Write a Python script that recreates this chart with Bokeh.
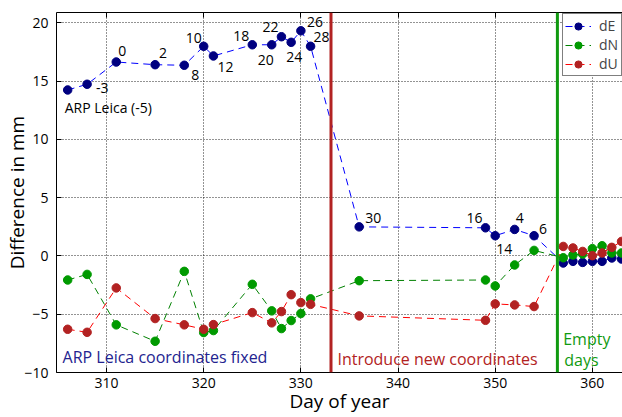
from bokeh.plotting import figure
from bokeh.models import (Range1d, SingleIntervalTicker, Span, Label, Legend,
                          LegendItem, LinearAxis, ColumnDataSource)
from bokeh.core.properties import value
from bokeh.embed import file_html
from bokeh.resources import INLINE

# ---------------- data ----------------
days = [306, 308, 311, 315, 318, 320, 321, 325, 327, 328, 329, 330, 331,
        336, 349, 350, 352, 354, 357, 358, 359, 360, 361, 362, 363]
dE = [14.25, 14.74, 16.65, 16.42, 16.37, 18.0, 17.17, 18.13, 18.13, 18.82,
      18.34, 19.33, 18.0, 2.5, 2.42, 1.74, 2.28, 1.74, -0.6, -0.46, -0.55,
      -0.46, -0.46, -0.17, -0.26]
dN = [-2.06, -1.58, -5.91, -7.32, -1.32, -6.57, -6.4, -2.43, -4.71, -6.23,
      -5.54, -4.94, -3.68, -2.12, -2.06, -2.57, -0.77, 0.48, -0.15, 0.09,
      0.17, 0.63, 0.88, 0.26, 0.26]
dU = [-6.29, -6.55, -2.74, -5.37, -5.91, -6.29, -5.89, -4.86, -5.74, -4.77,
      -3.32, -4.0, -4.15, -5.14, -5.52, -4.11, -4.2, -4.34, 0.82, 0.69, 0.39,
      0.03, 0.26, 0.74, 1.25]

# point labels on the dE series (first 18 points)
label_days = days[:18]
label_dE = dE[:18]
label_text = ["ARP Leica (-5)", "-3", "0", "2", "8", "10", "12", "18", "20",
              "22", "24", "26", "28", "30", "16", "14", "4", "6"]
# pixel offsets of each label (style)
label_dx = [-3, 9, 2, 4, 7, -18, 4, -19, -14, -19, -5, 6, 3, 6, -19, 1, 1, 5]
label_dy = [18, 4, -11, -12, 10, -8, 11, -9, 15, -10, 15, -9, -9, -9, -10, 13, -11, -7]

event_days = [333.1, 356.4]

annot_text = ["ARP Leica coordinates fixed", "Introduce new coordinates", "Empty", "days"]
annot_x = [305.47, 333.76, 357.0, 357.1]
annot_y = [-8.71, -8.83, -7.11, -8.94]
annot_color = ["#23238f", "#b22222", "#109a10", "#109a10"]

x_title = "Day of year"
y_title = "Difference in mm"

x_ticks_interval = 10
y_ticks_interval = 5
x_lo, x_hi = 304.85, 363.1
y_lo, y_hi = -10, 20.9

FONT = "Open Sans"

# ---------------- figure ----------------
p = figure(width=622, height=417, x_range=Range1d(x_lo, x_hi),
           y_range=Range1d(y_lo, y_hi), output_backend="svg",
           toolbar_location=None, min_border_left=56, min_border_right=0,
           min_border_top=12, min_border_bottom=45)
p.outline_line_color = None
p.background_fill_color = "white"
p.border_fill_color = "white"

for ax, interval in ((p.xaxis[0], x_ticks_interval), (p.yaxis[0], y_ticks_interval)):
    ax.ticker = SingleIntervalTicker(interval=interval)
    ax.major_tick_in = 5
    ax.major_tick_out = 0
    ax.minor_tick_line_color = None
    ax.axis_line_color = "black"
    ax.major_tick_line_color = "black"
    ax.major_label_text_font = FONT
    ax.major_label_text_font_size = "14px"
    ax.major_label_text_color = "black"
    ax.axis_label_text_font = FONT
    ax.axis_label_text_font_size = "19px"
    ax.axis_label_text_font_style = "normal"
    ax.axis_label_text_color = "black"

p.xaxis[0].axis_label = x_title
p.yaxis[0].axis_label = y_title
p.xaxis[0].major_label_standoff = 1
p.xaxis[0].axis_label_standoff = -3
p.yaxis[0].major_label_standoff = 4
p.yaxis[0].axis_label_standoff = -9
p.yaxis[0].major_label_overrides = {-10: "\u221210", -5: "\u22125"}

# top spine with inward ticks, no labels
top = LinearAxis(ticker=SingleIntervalTicker(interval=x_ticks_interval),
                 major_tick_in=5, major_tick_out=0, minor_tick_line_color=None,
                 major_label_text_font_size="0px", major_label_text_color=None,
                 major_label_standoff=0, axis_line_color="black")
p.add_layout(top, "above")

for g in (p.xgrid[0], p.ygrid[0]):
    g.grid_line_color = "black"
    g.grid_line_dash = "1 2"
    g.grid_line_alpha = 0.85
p.xgrid[0].ticker = SingleIntervalTicker(interval=x_ticks_interval)
p.ygrid[0].ticker = SingleIntervalTicker(interval=y_ticks_interval)

src = ColumnDataSource(dict(day=days, dE=dE, dN=dN, dU=dU))

series = [("dE", "#0000ff", "#000080"),
          ("dN", "#008000", "#009a00"),
          ("dU", "#ff0000", "#b22222")]
items = []
for name, lcol, mcol in series:
    ln = p.line("day", name, source=src, line_color=lcol, line_width=1,
                line_dash="7 5")
    sc = p.scatter("day", name, source=src, size=8.5, fill_color=mcol,
                   line_color=mcol)
    items.append(LegendItem(label=name, renderers=[ln, sc]))

for d, col in zip(event_days, ["#b22222", "#109a10"]):
    p.add_layout(Span(location=d, dimension="height", line_color=col, line_width=3))

lsrc = ColumnDataSource(dict(x=label_days, y=label_dE, t=label_text,
                             dx=label_dx, dy=label_dy))
p.text(x="x", y="y", text="t", x_offset="dx", y_offset="dy", source=lsrc,
       text_font=value(FONT), text_font_size="14px", text_color="black",
       text_align="left", text_baseline="middle")

for t, x, y, c in zip(annot_text, annot_x, annot_y, annot_color):
    p.add_layout(Label(x=x, y=y, text=t, text_color=c, text_font=FONT,
                       text_font_size="16px", text_baseline="middle",
                       text_align="left"))

legend = Legend(items=items, location=(506, 296), label_text_font=FONT,
                label_text_font_size="14px", glyph_width=26, glyph_height=18,
                label_height=18, spacing=0, padding=2, margin=0,
                label_standoff=8, border_line_color="black",
                border_line_width=1, background_fill_alpha=1)
p.add_layout(legend)

open("out.html", "w").write(file_html(p, INLINE))
